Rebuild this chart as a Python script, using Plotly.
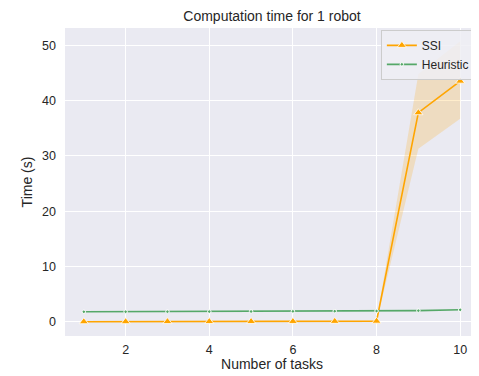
import plotly.graph_objects as go

tasks = [1, 2, 3, 4, 5, 6, 7, 8, 9, 10]
ssi = [0.05, 0.06, 0.07, 0.08, 0.09, 0.10, 0.12, 0.15, 37.8, 43.5]
ssi_lo = [0.03, 0.04, 0.05, 0.06, 0.07, 0.08, 0.09, 0.11, 31.3, 36.7]
ssi_hi = [0.07, 0.08, 0.09, 0.10, 0.11, 0.12, 0.15, 0.19, 44.8, 50.7]
heur = [1.85, 1.86, 1.87, 1.88, 1.90, 1.92, 1.95, 1.98, 2.05, 2.20]

orange = "#FFA500"
green = "#55A868"
txt = "#262626"

# page body has an 8px margin, so the figure is drawn at (8, 8)
W, H = 471, 368

fig = go.Figure()
fig.add_trace(go.Scatter(
    x=tasks + tasks[::-1], y=ssi_hi + ssi_lo[::-1],
    fill="toself", fillcolor="rgba(255,165,0,0.2)",
    line=dict(width=0), hoverinfo="skip", showlegend=False, mode="lines"))
fig.add_trace(go.Scatter(
    x=tasks, y=ssi, name="SSI", mode="lines+markers",
    line=dict(color=orange, width=1.6),
    marker=dict(symbol="triangle-up", size=8, color=orange,
                line=dict(color="white", width=0.8))))
fig.add_trace(go.Scatter(
    x=tasks, y=heur, name="Heuristic", mode="lines+markers",
    line=dict(color=green, width=1.6),
    marker=dict(symbol="circle", size=3.5, color=green,
                line=dict(color="white", width=1))))

fig.update_layout(
    width=W, height=H,
    margin=dict(l=57, r=0, t=20, b=40),
    paper_bgcolor="white", plot_bgcolor="#EAEAF2",
    font=dict(family="Liberation Sans, Arial, sans-serif", size=12, color=txt),
    title=dict(text="Computation time for 1 robot", x=(57 + 471) / 2 / W,
               xanchor="center", y=1 - 8 / H, yanchor="middle",
               font=dict(size=14, color=txt)),
    legend=dict(x=0.99, y=0.994, xanchor="right", yanchor="top",
                bgcolor="rgba(238,238,244,0.85)", bordercolor="#CCCCCC",
                borderwidth=1, font=dict(size=12, color=txt),
                tracegroupgap=0, itemwidth=30),
    showlegend=True,
)
fig.update_xaxes(range=[0.55, 10.45], tickvals=[2, 4, 6, 8, 10],
                 automargin=False,
                 showgrid=True, gridcolor="white", gridwidth=1,
                 zeroline=False, showline=False, ticks="",
                 ticklabelstandoff=4,
                 title=dict(text="Number of tasks", standoff=2,
                            font=dict(size=14, color=txt)),
                 tickfont=dict(size=12.5, color=txt))
fig.update_yaxes(range=[-2.53, 53.1], tickvals=[0, 10, 20, 30, 40, 50],
                 automargin=False,
                 showgrid=True, gridcolor="white", gridwidth=1,
                 zeroline=False, showline=False, ticks="",
                 ticklabelstandoff=8,
                 title=dict(text="Time (s)", standoff=6,
                            font=dict(size=14, color=txt)),
                 tickfont=dict(size=12.5, color=txt))

fig.write_html("out.html")
